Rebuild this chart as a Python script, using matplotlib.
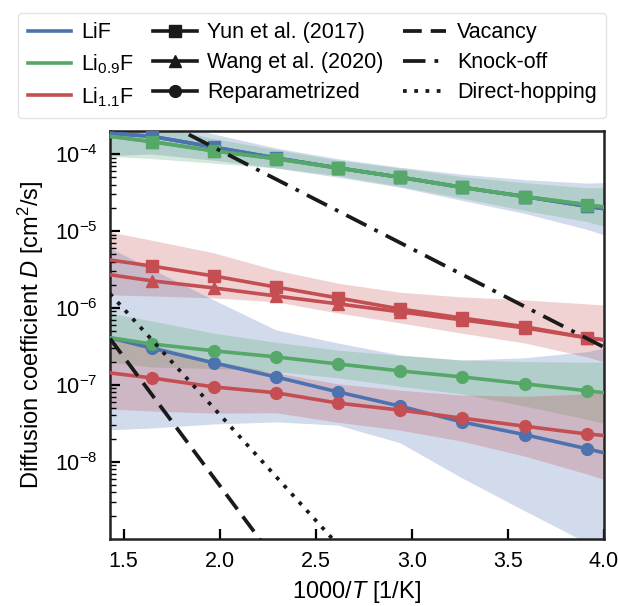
import numpy as np
import matplotlib
matplotlib.use("Agg")
import matplotlib.pyplot as plt
from matplotlib.lines import Line2D

plt.rcParams['font.family'] = ['Liberation Sans', 'DejaVu Sans']
plt.rcParams['mathtext.fontset'] = 'custom'
plt.rcParams['mathtext.rm'] = 'Liberation Sans'
plt.rcParams['mathtext.it'] = 'Liberation Sans:italic'
plt.rcParams['mathtext.bf'] = 'Liberation Sans:bold'

# ---------------- data ----------------
inv_T = [1.4286, 1.646, 1.969, 2.292, 2.615, 2.938, 3.260, 3.589, 3.911, 4.0]
marker_idx = [1, 2, 3, 4, 5, 6, 7, 8]

# literature models (Yun 2017 / Wang 2020)
LiF_yun   = [1.86e-4, 1.70e-4, 1.23e-4, 8.9e-5, 6.6e-5, 5.0e-5, 3.7e-5, 2.8e-5, 2.1e-5, 1.95e-5]
LiF_wang  = LiF_yun
Li09_yun  = [1.70e-4, 1.45e-4, 1.10e-4, 8.7e-5, 6.6e-5, 5.0e-5, 3.7e-5, 2.8e-5, 2.2e-5, 2.05e-5]
Li09_wang = Li09_yun
Li11_yun  = [4.2e-6, 3.5e-6, 2.6e-6, 1.87e-6, 1.35e-6, 9.7e-7, 7.4e-7, 5.7e-7, 4.1e-7, 3.85e-7]
Li11_wang = [2.7e-6, 2.25e-6, 1.82e-6, 1.43e-6, 1.13e-6, 8.9e-7, 7.0e-7, 5.5e-7, 4.1e-7, 3.85e-7]

# reparametrized model
LiF_rep  = [4.1e-7, 3.0e-7, 1.93e-7, 1.27e-7, 8.1e-8, 5.3e-8, 3.3e-8, 2.25e-8, 1.48e-8, 1.31e-8]
Li09_rep = [4.1e-7, 3.4e-7, 2.77e-7, 2.31e-7, 1.87e-7, 1.52e-7, 1.27e-7, 1.03e-7, 8.4e-8, 7.9e-8]
Li11_rep = [1.43e-7, 1.23e-7, 9.4e-8, 7.9e-8, 5.8e-8, 4.7e-8, 3.7e-8, 2.9e-8, 2.3e-8, 2.2e-8]

# uncertainty bands
LiF_lit_spread_dex  = [0.29, 0.23, 0.17, 0.13, 0.12, 0.13, 0.17, 0.22, 0.30, 0.34]
Li09_lit_spread_dex = [0.26, 0.22, 0.16, 0.12, 0.10, 0.12, 0.14, 0.18, 0.22, 0.25]
Li11_lit_upper = [9.7e-6, 7.6e-6, 5.2e-6, 3.1e-6, 2.1e-6, 1.6e-6, 1.39e-6, 1.27e-6, 1.13e-6, 1.09e-6]
Li11_lit_lower = [1.48e-6, 1.43e-6, 1.35e-6, 1.2e-6, 8.6e-7, 6.4e-7, 4.7e-7, 3.5e-7, 2.31e-7, 1.99e-7]
LiF_rep_upper = [6.0e-6, 3.2e-6, 1.27e-6, 5.2e-7, 3.5e-7, 2.45e-7, 2.1e-7, 2.25e-7, 2.7e-7, 3.0e-7]
LiF_rep_lower = [2.6e-8, 2.75e-8, 3.1e-8, 3.3e-8, 3.0e-8, 1.77e-8, 6.2e-9, 2.3e-9, 8.9e-10, 6.8e-10]
Li09_rep_spread_dex = [0.32, 0.30, 0.23, 0.19, 0.18, 0.20, 0.22, 0.29, 0.37, 0.40]
Li11_rep_spread_dex = [0.47, 0.43, 0.34, 0.26, 0.25, 0.26, 0.30, 0.39, 0.52, 0.57]

# mechanism reference lines (end points)
mech_x = [1.4286, 4.0]
vacancy_D  = [4.0e-7, 1.0e-15]
knockoff_D = [6.0e-4, 3.1e-7]
direct_D   = [1.53e-6, 1.3e-13]

colors = {'LiF': '#4C72B0', 'Li09': '#55A868', 'Li11': '#C44E52'}

# ---------------- figure ----------------
fig = plt.figure(figsize=(6.18, 6.06), dpi=100)
ax = fig.add_axes([0.178, 0.111, 0.799, 0.673])
x = np.array(inv_T)

def spread(vals, dex):
    v = np.array(vals); d = np.array(dex)
    return v * 10**(-d), v * 10**d

alpha = 0.25
lo, hi = spread(LiF_yun, LiF_lit_spread_dex)
ax.fill_between(x, lo, hi, color=colors['LiF'], alpha=alpha, lw=0)
lo, hi = spread(Li09_yun, Li09_lit_spread_dex)
ax.fill_between(x, lo, hi, color=colors['Li09'], alpha=alpha, lw=0)
ax.fill_between(x, Li11_lit_lower, Li11_lit_upper, color=colors['Li11'], alpha=alpha, lw=0)
ax.fill_between(x, LiF_rep_lower, LiF_rep_upper, color=colors['LiF'], alpha=alpha, lw=0)
lo, hi = spread(Li09_rep, Li09_rep_spread_dex)
ax.fill_between(x, lo, hi, color=colors['Li09'], alpha=alpha, lw=0)
lo, hi = spread(Li11_rep, Li11_rep_spread_dex)
ax.fill_between(x, lo, hi, color=colors['Li11'], alpha=alpha, lw=0)

lw = 2.6
ms = 8.5
for key, yun, wang, rep in [('LiF', LiF_yun, LiF_wang, LiF_rep),
                            ('Li09', Li09_yun, Li09_wang, Li09_rep),
                            ('Li11', Li11_yun, Li11_wang, Li11_rep)]:
    c = colors[key]
    ax.plot(x, wang, color=c, lw=lw, marker='^', ms=ms, markevery=marker_idx, zorder=3)
    ax.plot(x, yun, color=c, lw=lw, marker='s', ms=ms, markevery=marker_idx, zorder=3)
    ax.plot(x, rep, color=c, lw=lw, marker='o', ms=ms, markevery=marker_idx, zorder=3)

blk = '#1a1a1a'
blw = 2.7
dash = (0, (5, 2.4))
dashdot = (0, (6, 2.4, 1, 2.4))
dot = (0, (1, 2.0))
ax.plot(mech_x, vacancy_D, color=blk, lw=blw, ls=dash, zorder=4)
ax.plot(mech_x, knockoff_D, color=blk, lw=blw, ls=dashdot, zorder=4)
ax.plot(mech_x, direct_D, color=blk, lw=blw, ls=dot, zorder=4)

ax.set_yscale('log')
ax.set_xlim(1.4286, 4.0)
ax.set_ylim(1e-9, 2e-4)
ax.set_xticks([1.5, 2.0, 2.5, 3.0, 3.5, 4.0])
ax.set_xticklabels(['1.5', '2.0', '2.5', '3.0', '3.5', '4.0'])
ax.set_yticks([1e-8, 1e-7, 1e-6, 1e-5, 1e-4])
ax.set_yticklabels([r'$10^{-8}$', r'$10^{-7}$', r'$10^{-6}$', r'$10^{-5}$', r'$10^{-4}$'])
ax.tick_params(axis='both', which='major', direction='in', length=7, width=1.6,
               labelsize=15.5, top=False, right=False, pad=9)
ax.tick_params(axis='y', which='minor', direction='in', length=4, width=1.0, right=False)
for s in ax.spines.values():
    s.set_linewidth(1.8)
    s.set_color('#222222')

ax.set_xlabel(r'1000/$T$ [1/K]', fontsize=17, labelpad=5)
ax.set_ylabel(r'Diffusion coefficient $D$ [cm$^2$/s]', fontsize=17, labelpad=6)

handles = [
    Line2D([], [], color=colors['LiF'], lw=lw),
    Line2D([], [], color=colors['Li09'], lw=lw),
    Line2D([], [], color=colors['Li11'], lw=lw),
    Line2D([], [], color=blk, lw=lw, marker='s', ms=ms),
    Line2D([], [], color=blk, lw=lw, marker='^', ms=ms),
    Line2D([], [], color=blk, lw=lw, marker='o', ms=ms),
    Line2D([], [], color=blk, lw=blw, ls=dash),
    Line2D([], [], color=blk, lw=blw, ls=dashdot),
    Line2D([], [], color=blk, lw=blw, ls=dot),
]
labels = ['LiF', r'Li$_{0.9}$F', r'Li$_{1.1}$F',
          'Yun et al. (2017)', 'Wang et al. (2020)', 'Reparametrized',
          'Vacancy', 'Knock-off', 'Direct-hopping']
leg = fig.legend(handles, labels, ncol=3, loc='upper center',
                 bbox_to_anchor=(0.505, 0.997), fontsize=15.5, frameon=True,
                 fancybox=True, edgecolor='#dddddd', handlelength=2.0,
                 columnspacing=0.9, handletextpad=0.5, labelspacing=0.42,
                 borderpad=0.45)
leg.get_frame().set_linewidth(1.0)

fig.savefig('out.png', dpi=100)
